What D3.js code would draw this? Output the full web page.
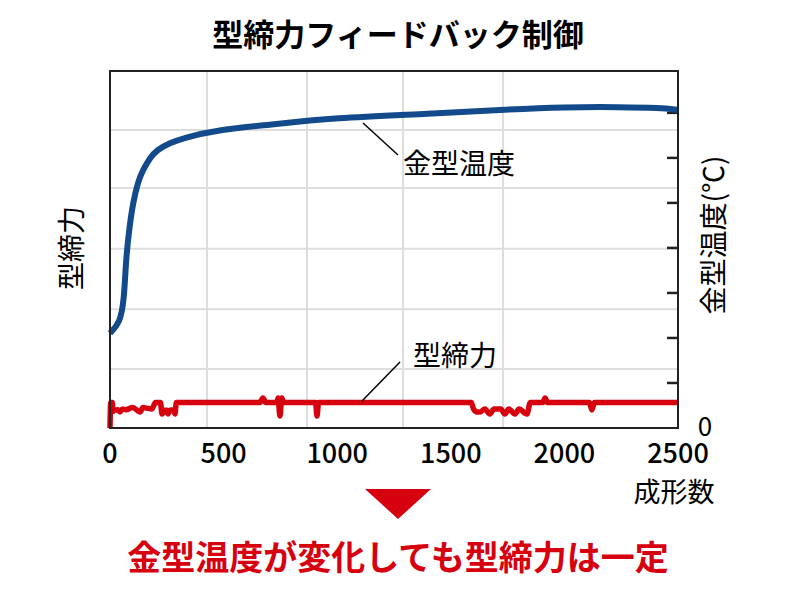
<!DOCTYPE html>
<html><head><meta charset="utf-8">
<script src="https://cdn.jsdelivr.net/npm/d3@7"></script>
<style>body{margin:0;background:#fff}text{font-family:"Noto Sans CJK JP","Noto Sans",sans-serif}</style>
</head><body><svg id="c" width="800" height="591"></svg>
<script>
// data
var xTicks = [0, 500, 1000, 1500, 2000, 2500];
var gridX = [427, 867, 1290, 1730];
var gridTemp = [1.31, 2.64, 3.98, 5.33, 6.62];
var tempTicks = [1, 2, 3, 4, 5, 6, 7];
var tempShots = [0, 44, 62, 70, 84, 101, 123, 145, 176, 207, 264, 321, 471, 691, 982, 1422, 1717, 2011, 2245, 2421, 2500];
var tempVals = [2.11, 2.33, 2.84, 3.73, 4.4, 5.0, 5.47, 5.73, 6.0, 6.18, 6.33, 6.44, 6.62, 6.73, 6.89, 6.98, 7.07, 7.13, 7.13, 7.11, 7.07];
var forceShots = [0, 3, 10, 13, 20, 35, 44, 55, 70, 100, 132, 145, 160, 185, 200, 222, 229, 240, 250, 255, 265, 280, 286, 292,
  660, 673, 686, 735, 740, 748, 756, 765, 905, 911, 918, 1590, 1600, 1615, 1630, 1650, 1672, 1690, 1720, 1738, 1755,
  1783, 1800, 1835, 1850, 1905, 1915, 1925, 2110, 2121, 2132, 2500];
var forceVals = [0, 100, 100, 65, 70, 72, 63, 75, 72, 80, 63, 80, 78, 75, 100, 100, 55, 70, 70, 55, 70, 72, 55, 100,
  100, 118, 100, 100, 118, 47, 118, 100, 100, 47, 100, 100, 75, 63, 63, 75, 55, 75, 75, 55, 75,
  55, 75, 55, 100, 100, 118, 100, 100, 71, 100, 100];

var svg = d3.select("#c");
var L = 110, R = 678, T = 71, B = 428;
var x = d3.scaleLinear().domain([0, 2500]).range([L, R]);
var yT = d3.scaleLinear().domain([0, 7.93]).range([B, T]);
var yF = d3.scaleLinear().domain([0, 1400]).range([B, T]);

var g = svg.append("g");
g.selectAll(".gx").data(gridX).enter().append("line")
  .attr("x1", d => x(d)).attr("x2", d => x(d)).attr("y1", T).attr("y2", B)
  .attr("stroke", "#ddd").attr("stroke-width", 2);
g.selectAll(".gy").data(gridTemp).enter().append("line")
  .attr("x1", L).attr("x2", R).attr("y1", d => yT(d)).attr("y2", d => yT(d))
  .attr("stroke", "#ddd").attr("stroke-width", 2);
g.selectAll(".tk").data(tempTicks).enter().append("line")
  .attr("x1", R - 11).attr("x2", R).attr("y1", d => yT(d)).attr("y2", d => yT(d))
  .attr("stroke", "#222").attr("stroke-width", 2.5);

var tempData = tempShots.map((s, i) => [s, tempVals[i]]);
g.append("path").datum(tempData)
  .attr("d", d3.line().x(d => x(d[0])).y(d => yT(d[1])).curve(d3.curveBasis))
  .attr("fill", "none").attr("stroke", "#124a8c").attr("stroke-width", 6);
var forceData = forceShots.map((s, i) => [s, forceVals[i]]);
g.append("path").datum(forceData)
  .attr("d", d3.line().x(d => x(d[0])).y(d => yF(d[1])).curve(d3.curveMonotoneX))
  .attr("fill", "none").attr("stroke", "#d7000f").attr("stroke-width", 5.5).attr("stroke-linejoin", "round");

g.append("rect").attr("x", L).attr("y", T).attr("width", R - L).attr("height", B - T)
  .attr("fill", "none").attr("stroke", "#222").attr("stroke-width", 2);

// annotations
g.append("line").attr("x1", 363).attr("y1", 123).attr("x2", 398).attr("y2", 155).attr("stroke", "#000").attr("stroke-width", 1.5);
g.append("line").attr("x1", 362).attr("y1", 401).attr("x2", 400).attr("y2", 362).attr("stroke", "#000").attr("stroke-width", 1.5);
svg.append("text").attr("x", 403).attr("y", 174).attr("font-size", 28).text("金型温度");
svg.append("text").attr("x", 413).attr("y", 366).attr("font-size", 28).text("型締力");

svg.selectAll(".xl").data(xTicks).enter().append("text")
  .attr("x", d => x(d)).attr("y", 463).attr("text-anchor", "middle").attr("font-size", 27).attr("font-weight", 500).text(d => d);
svg.append("text").attr("x", 705).attr("y", 436).attr("text-anchor", "middle").attr("font-size", 26).text("0");
svg.append("text").attr("x", 674).attr("y", 502).attr("text-anchor", "middle").attr("font-size", 27).text("成形数");

svg.append("text").attr("x", 398).attr("y", 46).attr("text-anchor", "middle").attr("font-size", 31).attr("font-weight", "bold").text("型締力フィードバック制御");
svg.append("text").attr("transform", "translate(82,248) rotate(-90)").attr("text-anchor", "middle").attr("font-size", 28).text("型締力");
svg.append("text").attr("transform", "translate(724,235) rotate(-90)").attr("text-anchor", "middle").attr("font-size", 28).text("金型温度(℃)");

svg.append("path").attr("d", "M365,489 L431,489 L398,519 Z").attr("fill", "#d7000f");
svg.append("text").attr("x", 398).attr("y", 570).attr("text-anchor", "middle").attr("font-size", 34).attr("font-weight", "bold").attr("fill", "#d7000f").text("金型温度が変化しても型締力は一定");
</script></body></html>
